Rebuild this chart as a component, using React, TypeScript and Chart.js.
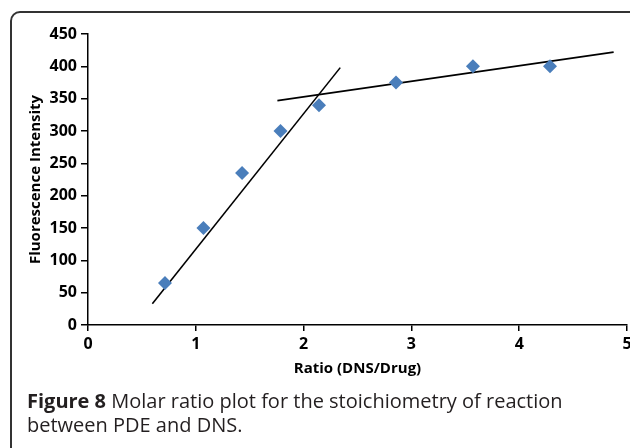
import React, { useEffect, useRef } from "react";
import { Chart, registerables } from "chart.js";

Chart.register(...registerables);

const ratioValues = [0.714, 1.071, 1.429, 1.786, 2.143, 2.857, 3.571, 4.286];
const intensityValues = [65, 150, 235, 300, 340, 375, 400, 400];
const fit1X = [0.597, 2.34];
const fit1Y = [33, 398];
const fit2X = [1.757, 4.876];
const fit2Y = [347, 422];
const xTitle = "Ratio (DNS/Drug)";
const yTitle = "Fluorescence Intensity";

export default function App() {
  const ref = useRef<HTMLCanvasElement | null>(null);
  useEffect(() => {
    if (!ref.current) return;
    const tickFont = { family: "'Open Sans', sans-serif", size: 16, weight: "bold" as const };
    const titleFont = { family: "'Open Sans', sans-serif", size: 15, weight: "bold" as const };
    const chart = new Chart(ref.current, {
      type: "scatter",
      data: {
        datasets: [
          {
            data: ratioValues.map((x, i) => ({ x, y: intensityValues[i] })),
            pointStyle: "rectRot",
            pointRadius: 7,
            pointBackgroundColor: "#4a7ebb",
            pointBorderWidth: 0,
            showLine: false,
          },
          {
            data: fit1X.map((x, i) => ({ x, y: fit1Y[i] })),
            showLine: true,
            pointRadius: 0,
            borderColor: "#000",
            borderWidth: 1.6,
          },
          {
            data: fit2X.map((x, i) => ({ x, y: fit2Y[i] })),
            showLine: true,
            pointRadius: 0,
            borderColor: "#000",
            borderWidth: 1.6,
          },
        ],
      },
      options: {
        animation: false,
        responsive: false,
        layout: { padding: { left: 27, top: 34, right: 33, bottom: 70 } },
        plugins: { legend: { display: false }, tooltip: { enabled: false } },
        scales: {
          x: {
            type: "linear",
            min: 0,
            max: 5,
            ticks: { stepSize: 1, font: tickFont, color: "#000", padding: 4 },
            grid: { drawOnChartArea: false, drawTicks: true, tickLength: 6, color: "#000", lineWidth: 1.5 },
            border: { display: true, color: "#000", width: 1.5 },
            title: { display: true, text: xTitle, font: titleFont, color: "#000", padding: 0 },
            afterFit: (s: any) => {
              s.height = 53;
              s.paddingLeft = 0;
              s.paddingRight = 0;
            },
          },
          y: {
            type: "linear",
            min: 0,
            max: 450,
            ticks: { stepSize: 50, font: tickFont, color: "#000", padding: 4 },
            grid: { drawOnChartArea: false, drawTicks: true, tickLength: 7, color: "#000", lineWidth: 1.5 },
            border: { display: true, color: "#000", width: 1.5 },
            title: { display: true, text: yTitle, font: titleFont, color: "#000", padding: 0 },
            afterFit: (s: any) => {
              s.width = 61;
              s.paddingTop = 0;
              s.paddingBottom = 0;
            },
          },
        },
      },
    });
    return () => chart.destroy();
  }, []);

  return (
    <div style={{ position: "fixed", left: 0, top: 0, width: 630, height: 448, overflow: "hidden", background: "#fff" }}>
      <div
        style={{
          position: "absolute",
          left: 10,
          top: 11,
          width: 640,
          height: 500,
          border: "2px solid #333",
          borderRadius: 10,
          boxSizing: "border-box",
        }}
      />
      <canvas ref={ref} width={660} height={448} style={{ position: "absolute", left: 0, top: 0 }} />
      <div
        style={{
          position: "absolute",
          left: 27,
          top: 389,
          fontFamily: "'Open Sans', sans-serif",
          fontSize: 20,
          lineHeight: "24px",
          color: "#231f20",
          whiteSpace: "nowrap",
        }}
      >
        <b>Figure 8</b> Molar ratio plot for the stoichiometry of reaction
        <br />
        between PDE and DNS.
      </div>
    </div>
  );
}
